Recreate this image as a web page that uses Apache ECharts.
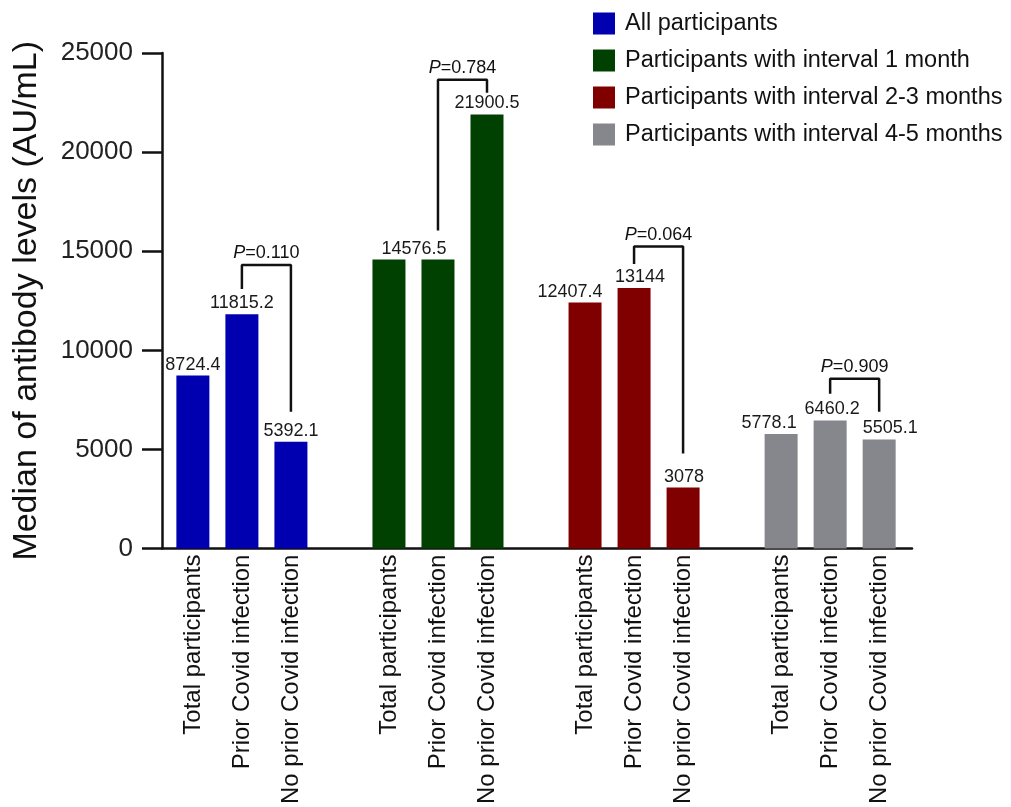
<!DOCTYPE html>
<html><head><meta charset="utf-8">
<script src="https://cdn.jsdelivr.net/npm/echarts@6/dist/echarts.min.js"></script>
<style>html,body{margin:0;padding:0;background:#fff}#c{width:1011px;height:807px}</style>
</head><body><div id="c"></div>
<script>
// ---- data ----
const groupNames = ['All participants','Participants with interval 1 month','Participants with interval 2-3 months','Participants with interval 4-5 months'];
const subCategories = ['Total participants','Prior Covid infection','No prior Covid infection'];
const allValues = [8724.4, 11815.2, 5392.1];
const month1Values = [14576.5, 14576.5, 21900.5];
const month23Values = [12407.4, 13144, 3078];
const month45Values = [5778.1, 6460.2, 5505.1];
const yTicks = [0, 5000, 10000, 15000, 20000, 25000];
const pValues = ['0.110', '0.784', '0.064', '0.909'];
// brackets compare "Prior" vs "No prior" in each group (levels in AU/mL)
const bracketTop = [14300, 23650, 15235, 8565];
const bracketLeftEnd = [13100, 16050, 14350, 7815];
const bracketRightEnd = [6900, 23000, 4800, 6900];

// ---- styles / layout ----
const colors = ['#0000b0', '#004000', '#800000', '#86868d'];
const labelShift = [[0, 0, 0], [25, null, 0], [-15, 6, 1], [-12, 2, 11]];
const FONT = "'Liberation Sans', Arial, Helvetica, sans-serif";
const groupValues = [allValues, month1Values, month23Values, month45Values];
const slot = (g, i) => g * 4 + i;

const positions = [], posLabel = {};
groupValues.forEach((vals, g) => vals.forEach((v, i) => { positions.push(slot(g, i)); posLabel[slot(g, i)] = subCategories[i]; }));

const barSeries = groupValues.map((vals, g) => ({
  name: groupNames[g],
  type: 'bar',
  barWidth: 33,
  barGap: '-100%',
  itemStyle: { color: colors[g] },
  label: {
    show: true, position: 'top', distance: 2,
    fontFamily: FONT, fontSize: 18, color: '#1a1a1a',
    formatter: p => String(p.value[1])
  },
  data: vals.map((v, i) => {
    const sh = labelShift[g][i];
    const item = { value: [slot(g, i), v] };
    if (sh === null) item.label = { show: false };
    else if (sh) item.label = { offset: [sh, 0] };
    return item;
  })
}));

const bracketSeries = pValues.map((p, g) => {
  const x1 = slot(g, 1), x2 = slot(g, 2);
  return {
    type: 'line', silent: true, symbol: 'none', z: 5,
    lineStyle: { color: '#111', width: 2.5 },
    data: [[x1, bracketLeftEnd[g]], [x1, bracketTop[g]], [x2, bracketTop[g]], [x2, bracketRightEnd[g]]]
  };
});

const pLabelSeries = {
  type: 'scatter', silent: true, symbolSize: 0, z: 6,
  itemStyle: { opacity: 1, color: '#111' },
  label: {
    show: true, position: 'top', distance: 3, opacity: 1,
    formatter: p => '{i|P}{n|=' + p.data[2] + '}',
    rich: {
      i: { fontStyle: 'italic', fontFamily: FONT, fontSize: 18, color: '#111' },
      n: { fontFamily: FONT, fontSize: 18, color: '#111' }
    }
  },
  data: pValues.map((p, g) => [(slot(g, 1) + slot(g, 2)) / 2, bracketTop[g], p])
};

const chart = echarts.init(document.getElementById('c'));
chart.setOption({
  backgroundColor: '#fff',
  animation: false,
  legend: {
    data: groupNames, orient: 'vertical', left: 588, top: 6,
    icon: 'rect', itemWidth: 22, itemHeight: 22, itemGap: 12,
    textStyle: { fontFamily: FONT, fontSize: 23.5, color: '#111', lineHeight: 25, padding: [0, 0, 0, 5] }
  },
  grid: { left: 162, top: 53, width: 750, height: 500, containLabel: false },
  xAxis: {
    type: 'value', min: -0.63, max: 14.67,
    splitLine: { show: false },
    axisLine: { show: true, onZero: false, lineStyle: { color: '#111', width: 2.5 } },
    axisTick: { show: false },
    axisLabel: {
      customValues: positions, rotate: 90, margin: 6,
      fontFamily: FONT, fontSize: 24, color: '#111',
      formatter: v => posLabel[Math.round(v)] || ''
    }
  },
  yAxis: {
    type: 'value', min: 0, max: 25000, interval: 5000,
    name: 'Median of antibody levels (AU/mL)', nameLocation: 'middle', nameGap: 118,
    nameTextStyle: { fontFamily: FONT, fontSize: 34, color: '#111' },
    splitLine: { show: false },
    axisLine: { show: true, onZero: false, lineStyle: { color: '#111', width: 2.5 } },
    axisTick: { show: true, length: 20, lineStyle: { color: '#111', width: 2.5 } },
    axisLabel: {
      margin: 29, fontFamily: FONT, fontSize: 26, color: '#222',
      customValues: yTicks, formatter: v => String(v)
    }
  },
  series: [...barSeries, ...bracketSeries, pLabelSeries]
});
</script></body></html>
